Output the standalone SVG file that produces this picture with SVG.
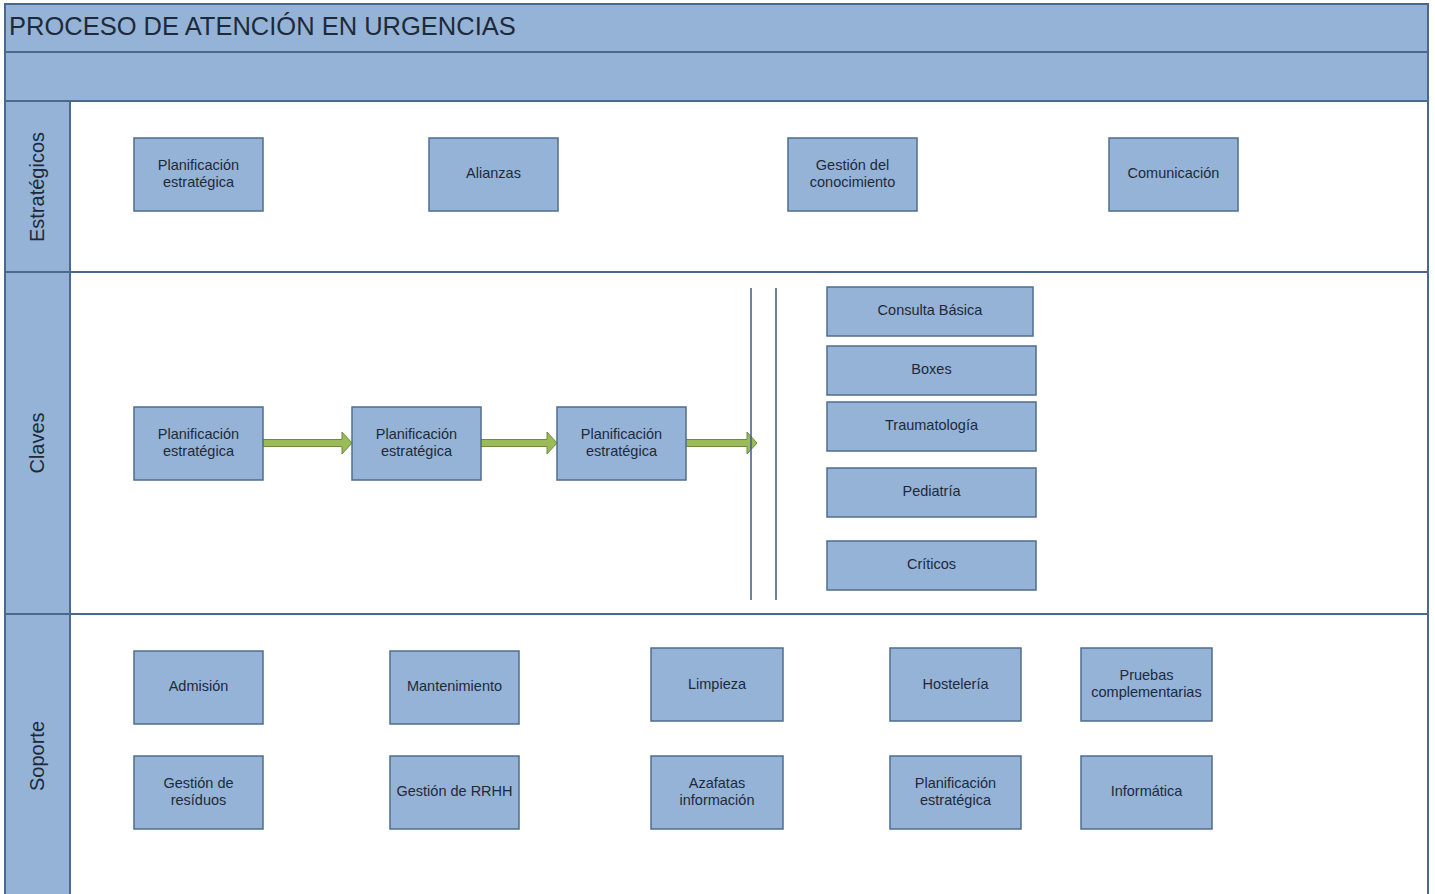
<svg xmlns="http://www.w3.org/2000/svg" width="1435" height="894" viewBox="0 0 1435 894">
<style>
.band{fill:#95b3d7;stroke:#4a6890;stroke-width:2}
.lane{fill:#ffffff;stroke:#4a6890;stroke-width:2}
.box{fill:#95b3d7;stroke:#4f6d91;stroke-width:1.5}
.t{font-family:"Liberation Sans",Arial,sans-serif;font-size:14.5px;fill:#1e2a3a;text-anchor:middle}
.lt{font-family:"Liberation Sans",Arial,sans-serif;font-size:20px;fill:#1e2a3a;text-anchor:middle}
.title{font-family:"Liberation Sans",Arial,sans-serif;font-size:25.5px;fill:#1e2a3a}
.arr{fill:#9bbb59;stroke:#6f8a3c;stroke-width:1}
.vl{stroke:#3e5a7e;stroke-width:1.5}
</style>
<rect width="1435" height="894" fill="#ffffff"/>
<g id="frame">
<rect class="band" x="5" y="4" width="1423" height="48"/>
<rect class="band" x="5" y="52" width="1423" height="49"/>
<rect class="lane" x="5" y="101" width="1423" height="171"/>
<rect class="lane" x="5" y="272" width="1423" height="342"/>
<rect class="lane" x="5" y="614" width="1423" height="290"/>
<rect class="band" x="5" y="101" width="65" height="171"/>
<rect class="band" x="5" y="272" width="65" height="342"/>
<rect class="band" x="5" y="614" width="65" height="290"/>
<text class="title" x="9" y="35">PROCESO DE ATENCIÓN EN URGENCIAS</text>
<text class="lt" transform="translate(44,187) rotate(-90)">Estratégicos</text>
<text class="lt" transform="translate(44,443) rotate(-90)">Claves</text>
<text class="lt" transform="translate(44,756) rotate(-90)">Soporte</text>
</g>
<g id="connectors">
<polygon class="arr" points="263,439.5 342,439.5 342,432 352,443 342,454 342,446.5 263,446.5"/>
<polygon class="arr" points="481,439.5 547,439.5 547,432 557,443 547,454 547,446.5 481,446.5"/>
<polygon class="arr" points="686,439.5 747,439.5 747,432 757,443 747,454 747,446.5 686,446.5"/>
<line class="vl" x1="751" y1="288" x2="751" y2="600"/>
<line class="vl" x1="776" y1="288" x2="776" y2="600"/>
</g>
<g id="n1"><rect class="box" x="134" y="138" width="129" height="73"/><text class="t" x="198.5" y="170">Planificación</text><text class="t" x="198.5" y="187">estratégica</text></g>
<g id="n2"><rect class="box" x="429" y="138" width="129" height="73"/><text class="t" x="493.5" y="178">Alianzas</text></g>
<g id="n3"><rect class="box" x="788" y="138" width="129" height="73"/><text class="t" x="852.5" y="170">Gestión del</text><text class="t" x="852.5" y="187">conocimiento</text></g>
<g id="n4"><rect class="box" x="1109" y="138" width="129" height="73"/><text class="t" x="1173.5" y="178">Comunicación</text></g>
<g id="n5"><rect class="box" x="134" y="407" width="129" height="73"/><text class="t" x="198.5" y="439">Planificación</text><text class="t" x="198.5" y="456">estratégica</text></g>
<g id="n6"><rect class="box" x="352" y="407" width="129" height="73"/><text class="t" x="416.5" y="439">Planificación</text><text class="t" x="416.5" y="456">estratégica</text></g>
<g id="n7"><rect class="box" x="557" y="407" width="129" height="73"/><text class="t" x="621.5" y="439">Planificación</text><text class="t" x="621.5" y="456">estratégica</text></g>
<g id="n8"><rect class="box" x="827" y="287" width="206" height="49"/><text class="t" x="930" y="315">Consulta Básica</text></g>
<g id="n9"><rect class="box" x="827" y="346" width="209" height="49"/><text class="t" x="931.5" y="374">Boxes</text></g>
<g id="n10"><rect class="box" x="827" y="402" width="209" height="49"/><text class="t" x="931.5" y="430">Traumatología</text></g>
<g id="n11"><rect class="box" x="827" y="468" width="209" height="49"/><text class="t" x="931.5" y="496">Pediatría</text></g>
<g id="n12"><rect class="box" x="827" y="541" width="209" height="49"/><text class="t" x="931.5" y="569">Críticos</text></g>
<g id="n13"><rect class="box" x="134" y="651" width="129" height="73"/><text class="t" x="198.5" y="691">Admisión</text></g>
<g id="n14"><rect class="box" x="390" y="651" width="129" height="73"/><text class="t" x="454.5" y="691">Mantenimiento</text></g>
<g id="n15"><rect class="box" x="651" y="648" width="132" height="73"/><text class="t" x="717" y="689">Limpieza</text></g>
<g id="n16"><rect class="box" x="890" y="648" width="131" height="73"/><text class="t" x="955.5" y="689">Hostelería</text></g>
<g id="n17"><rect class="box" x="1081" y="648" width="131" height="73"/><text class="t" x="1146.5" y="680">Pruebas</text><text class="t" x="1146.5" y="697">complementarias</text></g>
<g id="n18"><rect class="box" x="134" y="756" width="129" height="73"/><text class="t" x="198.5" y="788">Gestión de</text><text class="t" x="198.5" y="805">resíduos</text></g>
<g id="n19"><rect class="box" x="390" y="756" width="129" height="73"/><text class="t" x="454.5" y="796">Gestión de RRHH</text></g>
<g id="n20"><rect class="box" x="651" y="756" width="132" height="73"/><text class="t" x="717" y="788">Azafatas</text><text class="t" x="717" y="805">información</text></g>
<g id="n21"><rect class="box" x="890" y="756" width="131" height="73"/><text class="t" x="955.5" y="788">Planificación</text><text class="t" x="955.5" y="805">estratégica</text></g>
<g id="n22"><rect class="box" x="1081" y="756" width="131" height="73"/><text class="t" x="1146.5" y="796">Informática</text></g>
</svg>
